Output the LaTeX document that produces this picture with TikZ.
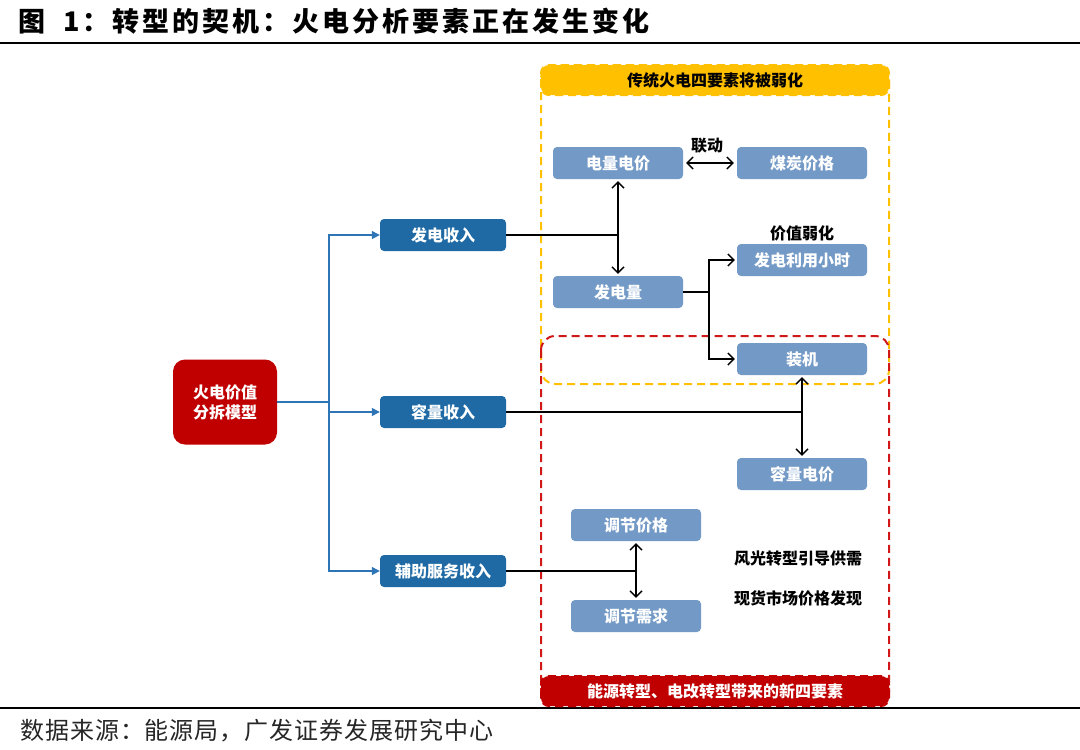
\documentclass[tikz,border=0pt]{standalone}
\usepackage{fontspec}
\setmainfont{Noto Sans CJK SC}
\usetikzlibrary{arrows.meta}
\definecolor{dred}{HTML}{C00000}
\definecolor{nblue}{HTML}{1F6AA5}
\definecolor{lblue}{HTML}{7399C6}
\definecolor{ablue}{HTML}{2E75B6}
\definecolor{ylw}{HTML}{FFC000}
\definecolor{rdash}{HTML}{D01818}
\tikzset{
  x=1pt, y=-1pt,
  txt/.style={font=\bfseries\fontsize{16pt}{20pt}\selectfont},
  darkbox/.style={txt, rounded corners=4pt, fill=nblue, text=white, minimum width=126pt, minimum height=32pt, inner sep=0pt},
  litebox/.style={txt, rounded corners=4pt, fill=lblue, text=white, minimum width=130pt, minimum height=32pt, inner sep=0pt},
  redbox/.style={txt, rounded corners=12pt, fill=dred, text=white, minimum width=104pt, minimum height=85pt, inner sep=0pt, align=center},
  bluearrow/.style={draw=ablue, line width=1.3pt, -{Triangle[length=8pt,width=8pt]}},
  blueline/.style={draw=ablue, line width=1.3pt},
  blk/.style={draw=black, line width=1.4pt},
  barbs/.style={blk, {Straight Barb[length=6pt,width=12pt]}-{Straight Barb[length=6pt,width=12pt]}},
  barb/.style={blk, -{Straight Barb[length=6pt,width=12pt]}},
  ydash/.style={draw=ylw, line width=2pt, dash pattern=on 8pt off 5pt, rounded corners=14pt},
  rdashed/.style={draw=rdash, line width=2pt, dash pattern=on 8pt off 5pt, rounded corners=14pt},
  band/.style={txt, minimum width=348pt, minimum height=30pt, inner sep=0pt, rounded corners=8pt, line width=2pt, dash pattern=on 8pt off 5pt},
}
\begin{document}
\begin{tikzpicture}
\useasboundingbox (0,0) rectangle (1080,750);
% title and rules
\node[anchor=west, inner sep=0pt, font=\bfseries\fontsize{27pt}{30pt}\selectfont\addfontfeature{LetterSpace=11}] (title) at (18,21) {图\ \ 1：转型的契机：火电分析要素正在发生变化};
\draw[line width=2pt] (0,43) -- (1080,43);
\draw[line width=2pt] (0,708) -- (1080,708);
\node[anchor=west, inner sep=0pt, font=\fontsize{24pt}{28pt}\selectfont\addfontfeature{LetterSpace=4}, text=black!85] (src) at (20,731) {数据来源：能源局，广发证券发展研究中心};

% dashed frames
\draw[ydash] (541,65) rectangle (889,384);
\draw[rdashed] (541,336) rectangle (889,706);
\node[band, fill=ylw, draw=ylw, text=black] (yhead) at (715,80) {传统火电四要素将被弱化};
\node[band, fill=dred, draw=dred, text=white] (rfoot) at (715,691) {能源转型、电改转型带来的新四要素};

% main nodes
\node[redbox] (model) at (225,402) {火电价值\\分拆模型};
\node[darkbox] (fd) at (443,235) {发电收入};
\node[darkbox] (rl) at (443,412) {容量收入};
\node[darkbox] (fz) at (443,571) {辅助服务收入};

\node[litebox] (ddj) at (618,163) {电量电价};
\node[litebox] (mt) at (802,163) {煤炭价格};
\node[litebox] (fdl) at (618,292) {发电量};
\node[litebox] (lyxs) at (802,260) {发电利用小时};
\node[litebox] (zj) at (802,359) {装机};
\node[litebox] (rldj) at (802,474) {容量电价};
\node[litebox] (tjjg) at (636,525) {调节价格};
\node[litebox] (tjxq) at (636,616) {调节需求};

% labels
\node[txt] (ld) at (707,146) {联动};
\node[txt] (jzrh) at (802,233) {价值弱化};
\node[txt] (fg) at (798,558) {风光转型引导供需};
\node[txt] (xh) at (798,598) {现货市场价格发现};

% blue connectors
\coordinate (trunk) at (329,402);
\draw[blueline] (model.east) -- (trunk);
\draw[bluearrow] (trunk) |- (fd.west);
\draw[bluearrow] (trunk) |- (rl.west);
\draw[bluearrow] (trunk) |- (fz.west);

% black connectors
\draw[barbs, shorten <=3pt, shorten >=3pt] (ddj.east) -- (mt.west);
\coordinate (j1) at (618,235);
\draw[blk] (fd.east) -- (j1);
\draw[barbs, shorten <=2pt, shorten >=2pt] (ddj.south) -- (fdl.north);
\coordinate (j2) at (709,292);
\draw[blk] (fdl.east) -- (j2);
\draw[barb, shorten >=2pt] (j2) |- (lyxs.west);
\draw[barb, shorten >=2pt] (j2) |- (zj.west);
\coordinate (j3) at (802,412);
\draw[blk] (rl.east) -- (j3);
\draw[barbs, shorten <=2pt, shorten >=2pt] (zj.south) -- (rldj.north);
\coordinate (j4) at (636,571);
\draw[blk] (fz.east) -- (j4);
\draw[barbs, shorten <=2pt, shorten >=2pt] (tjjg.south) -- (tjxq.north);
\end{tikzpicture}
\end{document}
